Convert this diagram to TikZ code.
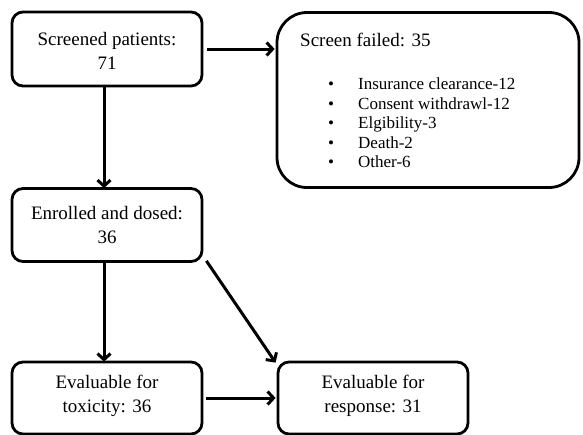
\documentclass[tikz,border=0pt]{standalone}
\usepackage{fontspec}
\setmainfont{Liberation Serif}
\usetikzlibrary{arrows.meta}
\begin{document}
\begin{tikzpicture}[x=1pt,y=-1pt,
  box/.style={draw=black, line width=2.8pt, rounded corners=11pt, inner sep=0pt, fill=white},
  lbl/.style={font=\fontsize{19}{24}\selectfont, align=center, inner sep=0pt},
  conn/.style={line width=3pt, -{Straight Barb[length=6pt,width=13pt,line width=3pt]}}
]
\useasboundingbox (0,0) rectangle (583,434);
\node[box, minimum width=190pt, minimum height=74pt] (scr) at (107,49) {};
\node[lbl] (scrt) at (107,51) {Screened patients:\\71};
\node[box, rounded corners=30pt, minimum width=302pt, minimum height=175pt] (fail) at (428,100) {};
\node[anchor=west, inner sep=0pt, font=\fontsize{19}{24}\selectfont] (failt) at (300,40) {Screen failed: 35};
\node[anchor=north west, inner sep=0pt, font=\fontsize{17}{19.5}\selectfont] (faill) at (328,76) {%
\begin{tabular}{@{}p{30pt}@{}l@{}}
\textbullet & Insurance clearance-12\\
\textbullet & Consent withdrawl-12\\
\textbullet & Elgibility-3\\
\textbullet & Death-2\\
\textbullet & Other-6
\end{tabular}};
\node[box, minimum width=190pt, minimum height=73pt] (enr) at (107,225) {};
\node[lbl] (enrt) at (107,225) {Enrolled and dosed:\\36};
\node[box, minimum width=190pt, minimum height=72pt] (tox) at (107,398) {};
\node[lbl] (toxt) at (107,396) {Evaluable for\\toxicity: 36};
\node[box, minimum width=190pt, minimum height=72pt] (resp) at (373,398) {};
\node[lbl] (respt) at (373,396) {Evaluable for\\response: 31};
\draw[conn] ([xshift=4pt]scr.east) -- ([xshift=-1pt]fail.west |- scr.east);
\draw[conn] (scr.south -| 104,0) -- ([yshift=-1pt]enr.north -| 104,0);
\draw[conn] (enr.south -| 104,0) -- ([yshift=-1pt]tox.north -| 104,0);
\draw[conn] ([shift={(3pt,2pt)}]enr.south east) -- ([shift={(-1pt,-2pt)}]resp.north west);
\draw[conn] ([xshift=3pt]tox.east) -- ([xshift=-1pt]resp.west);
\end{tikzpicture}
\end{document}
